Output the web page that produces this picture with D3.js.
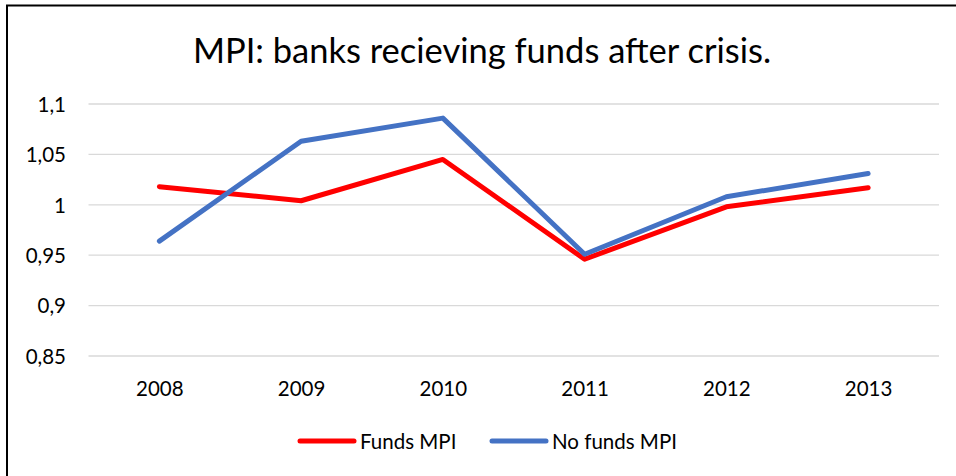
<!DOCTYPE html>
<html>
<head>
<meta charset="utf-8">
<script src="https://cdn.jsdelivr.net/npm/d3@7"></script>
<style>
  html, body { margin: 0; padding: 0; background: #fff; }
  svg { display: block; font-family: Lato, "Open Sans", sans-serif; }
</style>
</head>
<body>
<svg id="chart" width="956" height="476"></svg>
<script>
// Chart data
const years = ["2008", "2009", "2010", "2011", "2012", "2013"];
const fundsMPI = [1.018, 1.004, 1.045, 0.946, 0.998, 1.017];
const noFundsMPI = [0.964, 1.063, 1.086, 0.951, 1.008, 1.031];
const yTicks = [0.85, 0.9, 0.95, 1, 1.05, 1.1];
const seriesNames = ["Funds MPI", "No funds MPI"];
const seriesColors = ["#ff0000", "#4472c4"];
const titleText = "MPI: banks recieving funds after crisis.";

const svg = d3.select("#chart");
const W = 956, H = 476;

// Chart frame (left and top edges)
svg.append("path")
  .attr("d", `M7,${H} V5.5 H${W}`)
  .attr("fill", "none")
  .attr("stroke", "#000")
  .attr("stroke-width", 2);

// Title
svg.append("text")
  .attr("x", 482).attr("y", 62.5)
  .attr("text-anchor", "middle")
  .attr("font-size", 34.5)
  .attr("fill", "#000")
  .text(titleText);

const x = d3.scalePoint().domain(years).range([88.5, 939]).padding(0.5);
const y = d3.scaleLinear().domain([0.85, 1.1]).range([356, 104]);

// Horizontal gridlines
svg.append("g")
  .selectAll("line")
  .data(yTicks)
  .join("line")
  .attr("x1", 88.5).attr("x2", 939)
  .attr("y1", d => y(d)).attr("y2", d => y(d))
  .attr("stroke", "#d9d9d9")
  .attr("stroke-width", 1.3);

// Y axis labels (comma decimal separator)
const fmt = d => String(d).replace(".", ",");
const yAxis = d3.axisLeft(y).tickValues(yTicks).tickFormat(fmt).tickSize(0).tickPadding(0);
const gy = svg.append("g").attr("transform", "translate(66,0)").call(yAxis);
gy.select(".domain").remove();
gy.selectAll("text").attr("font-size", 20.5).attr("fill", "#000")
  .attr("font-family", "Lato, sans-serif").attr("dy", "0.36em");

// X axis labels
const xAxis = d3.axisBottom(x).tickSize(0).tickPadding(0);
const gx = svg.append("g").attr("transform", "translate(0,0)").call(xAxis);
gx.select(".domain").remove();
gx.selectAll("text").attr("font-size", 20.5).attr("fill", "#000")
  .attr("font-family", "Lato, sans-serif").attr("y", 396).attr("dy", null);

// Lines
const line = d3.line().x((d, i) => x(years[i])).y(d => y(d));
[fundsMPI, noFundsMPI].forEach((vals, k) => {
  svg.append("path")
    .datum(vals)
    .attr("d", line)
    .attr("fill", "none")
    .attr("stroke", seriesColors[k])
    .attr("stroke-width", 5)
    .attr("stroke-linejoin", "round")
    .attr("stroke-linecap", "round");
});

// Legend
const legendX = [300, 492];
const legend = svg.append("g");
seriesNames.forEach((name, k) => {
  legend.append("line")
    .attr("x1", legendX[k]).attr("x2", legendX[k] + 54)
    .attr("y1", 441).attr("y2", 441)
    .attr("stroke", seriesColors[k])
    .attr("stroke-width", 5)
    .attr("stroke-linecap", "round");
  legend.append("text")
    .attr("x", legendX[k] + 60).attr("y", 449)
    .attr("font-size", 20.5)
    .attr("fill", "#000")
    .text(name);
});
</script>
</body>
</html>
